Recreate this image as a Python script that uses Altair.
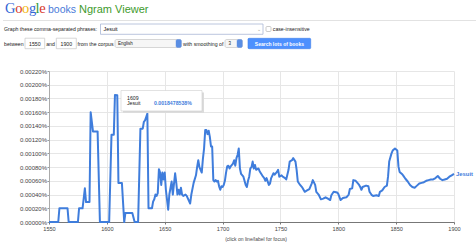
import altair as alt
import pandas as pd

# ---------------- data ----------------
YEARS = [1550, 1558, 1559, 1566, 1567, 1575, 1576, 1579, 1581, 1582, 1585, 1586, 1588, 1592, 1594,
         1602, 1604, 1606, 1607, 1609, 1610, 1613, 1615, 1616, 1622, 1624, 1627, 1629, 1631, 1632,
         1633, 1634, 1635, 1636, 1639, 1640, 1641, 1642, 1643, 1644, 1645, 1646, 1647, 1648, 1649,
         1650, 1651, 1653, 1654, 1656, 1657, 1659, 1660, 1661, 1662, 1663, 1664, 1665, 1666, 1668,
         1669, 1672, 1673, 1675, 1677, 1678, 1679, 1680, 1682, 1683, 1684, 1685, 1686, 1687, 1688,
         1689, 1690, 1691, 1692, 1693, 1694, 1695, 1696, 1697, 1698, 1699, 1700, 1701, 1702, 1703,
         1704, 1705, 1706, 1707, 1709, 1710, 1711, 1712, 1713, 1714, 1715, 1716, 1718, 1720, 1721,
         1722, 1723, 1724, 1725, 1726, 1727, 1728, 1729, 1731, 1732, 1735, 1736, 1737, 1738, 1740,
         1741, 1742, 1744, 1745, 1747, 1748, 1749, 1751, 1752, 1754, 1755, 1757, 1758, 1760, 1761,
         1763, 1764, 1765, 1767, 1769, 1771, 1773, 1775, 1777, 1778, 1780, 1781, 1783, 1785, 1787,
         1789, 1791, 1793, 1794, 1796, 1799, 1800, 1802, 1804, 1807, 1809, 1810, 1812, 1813, 1815,
         1816, 1818, 1819, 1820, 1821, 1824, 1826, 1827, 1829, 1830, 1833, 1835, 1836, 1838, 1840,
         1842, 1843, 1844, 1846, 1847, 1849, 1851, 1852, 1853, 1855, 1856, 1858, 1860, 1862, 1864,
         1866, 1868, 1870, 1872, 1874, 1876, 1878, 1880, 1882, 1884, 1886, 1888, 1890, 1892, 1894,
         1896, 1898, 1900]
# frequency in percent
JESUIT = [0, 0, 0.0002, 0.0002, 0, 0, 0.0002, 0.0002, 0.00049, 0.00029, 0.00029, 0.0016, 0.00132, 0.00132, 0,
          0, 0.00127, 0.00127, 0.00185, 0.0018478538, 0.00057, 0.00057, 0, 0.00013, 0.00013, 0, 0, 0.00136, 0.00136, 0.00146,
          0.00148, 0.00153, 0.00158, 0.0002, 0.0002, 0.0003, 0.00033, 0.0004, 0.00038, 0.00042, 0.00077, 0.00072, 0.00054, 0.00072, 0.00062,
          0.00072, 0.00047, 0.00018, 0.0004, 0.00059, 0.0004, 0.00071, 0.00057, 0.0004, 0.00047, 0.0004, 0.0005, 0.0004, 0.00038, 0.0004,
          0.00038, 0.00027, 0.0004, 0.00057, 0.00068, 0.0008, 0.0009, 0.0008, 0.00072, 0.00092, 0.00107, 0.00134, 0.00134, 0.00128, 0.00133,
          0.00124, 0.0011, 0.0011, 0.00061, 0.00059, 0.00061, 0.00059, 0.0006, 0.00052, 0.00047, 0.00052, 0.00051, 0.00054, 0.0006, 0.00072,
          0.00081, 0.00082, 0.00078, 0.00081, 0.00085, 0.0009, 0.00082, 0.00093, 0.00098, 0.00107, 0.00078, 0.0007, 0.00066, 0.00054, 0.00051,
          0.0006, 0.00066, 0.00078, 0.0008, 0.00088, 0.00078, 0.00083, 0.00076, 0.00078, 0.00074, 0.00066, 0.00064, 0.0006, 0.00064, 0.00054,
          0.00056, 0.00064, 0.00071, 0.00069, 0.00073, 0.00076, 0.00066, 0.00068, 0.00066, 0.00064, 0.00062, 0.00076, 0.00088, 0.0009, 0.00093,
          0.00088, 0.00076, 0.00059, 0.00054, 0.0005, 0.00044, 0.00046, 0.00048, 0.00056, 0.00061, 0.00054, 0.00044, 0.0004, 0.00033, 0.00034,
          0.00036, 0.00034, 0.00032, 0.00039, 0.00044, 0.00043, 0.00041, 0.00032, 0.00035, 0.00036, 0.0004, 0.00048, 0.00049, 0.00061, 0.0006,
          0.00058, 0.00054, 0.00051, 0.00047, 0.00051, 0.00053, 0.00052, 0.00044, 0.00039, 0.00038, 0.00039, 0.00038, 0.00044, 0.00046, 0.00051,
          0.00053, 0.00066, 0.00088, 0.001, 0.00104, 0.00107, 0.00104, 0.00081, 0.00073, 0.0007, 0.00068, 0.00063, 0.00059, 0.00054, 0.00051,
          0.0005, 0.00053, 0.00056, 0.00057, 0.00058, 0.0006, 0.00061, 0.00062, 0.00062, 0.00064, 0.00067, 0.00063, 0.00061, 0.00062, 0.00063,
          0.00066, 0.00068, 0.0007]
SERIES = "Jesuit"
X_TICKS = [1550, 1600, 1650, 1700, 1750, 1800, 1850, 1900]
Y_TICKS = [0, 0.0002, 0.0004, 0.0006, 0.0008, 0.001, 0.0012, 0.0014, 0.0016, 0.0018, 0.002, 0.0022]
TIP_YEAR = "1609"
TIP_VALUE = "0.0018478538%"

SANS = "Liberation Sans"
SERIF = "Liberation Serif"
LINE_BLUE = "#3f7ddc"
OX, OY = 49, 71          # plot origin inside the 476x246 page
W, H = 405, 151

df = pd.DataFrame({"year": YEARS, "value": JESUIT, "series": SERIES})
one = pd.DataFrame({"k": [0]})


def txt(x, y, s, size, color="#222", weight="normal", align="left", font=SANS, baseline="middle"):
    return alt.Chart(one).mark_text(
        fontSize=size, color=color, fontWeight=weight, align=align, font=font, baseline=baseline
    ).encode(x=alt.value(x - OX), y=alt.value(y - OY), text=alt.value(s))


def box(x1, y1, x2, y2, fill="white", stroke="#c8c8c8", sw=0.7, r=0):
    return alt.Chart(one).mark_rect(
        fill=fill, stroke=stroke, strokeWidth=sw, cornerRadius=r
    ).encode(x=alt.value(x1 - OX), x2=alt.value(x2 - OX), y=alt.value(y1 - OY), y2=alt.value(y2 - OY))


def hline(x1, x2, y, color="#d8d8d8", sw=1):
    return alt.Chart(one).mark_rule(color=color, strokeWidth=sw).encode(
        x=alt.value(x1 - OX), x2=alt.value(x2 - OX), y=alt.value(y - OY))


base = alt.Chart(df)
line = base.mark_line(color=LINE_BLUE, strokeWidth=2, strokeJoin="round").encode(
    x=alt.X("year:Q", scale=alt.Scale(domain=[1550, 1900], nice=False, zero=False),
            axis=alt.Axis(values=X_TICKS, tickCount=len(X_TICKS), format="d", title=None,
                          labelFontSize=5.6, labelFont=SANS,
                          labelColor="#444", tickSize=2, tickColor="#777", domainColor="#777",
                          gridColor="#e6e6e6", labelPadding=2, labelFlush=False, labelOverlap=False)),
    y=alt.Y("value:Q", scale=alt.Scale(domain=[0, 0.0022], nice=False),
            axis=alt.Axis(values=Y_TICKS, tickCount=len(Y_TICKS), title=None,
                          labelExpr="format(datum.value, '.5f') + '%'",
                          labelFontSize=6, labelFont=SANS, labelColor="#444", tickSize=2,
                          tickColor="#999", domainColor="#aaa", gridColor="#e6e6e6",
                          labelPadding=0.5, labelOverlap=False, labelFlush=False)),
)
end_label = base.transform_filter(alt.datum.year == 1900).mark_text(
    align="left", dx=2, fontSize=5.9, fontWeight="bold", color=LINE_BLUE, font=SANS
).encode(x="year:Q", y="value:Q", text="series:N")

layers = [line, end_label]

# tooltip
layers += [
    box(123, 92.5, 204, 113, fill="#dcdcdc", stroke="#dcdcdc", sw=0),
    box(121, 90.5, 202, 111, fill="white", stroke="#cfcfcf", sw=0.6),
    txt(127, 97.7, TIP_YEAR, 5.2, color="#222"),
    txt(127, 103.4, SERIES, 5.2, color="#222"),
    txt(154, 103.4, TIP_VALUE, 5.2, color=LINE_BLUE, weight="bold"),
]

# header: logo
logo = [("G", "#3366d6", 5), ("o", "#d8372b", 15.3), ("o", "#f2b50f", 22.1), ("g", "#3366d6", 28.9),
        ("l", "#2e9a3b", 35.6), ("e", "#d8372b", 39.2)]
for ch, col, x in logo:
    layers.append(txt(x, 13.3, ch, 14.5, color=col, font=SERIF, baseline="alphabetic"))
layers += [
    txt(48, 12.7, "books", 10.5, color="#4a7bd9", baseline="alphabetic"),
    txt(79, 12.7, "Ngram Viewer", 11, color="#3e9a2c", baseline="alphabetic"),
    hline(3, 476, 20.5, color="#dadada", sw=0.8),
]

# row: phrases
layers += [
    txt(4, 29, "Graph these comma-separated phrases:", 5.2),
    box(100.5, 24, 263, 34.3, stroke="#a9b8d6", sw=0.8),
    txt(103.5, 29.2, "Jesuit", 5.4, color="#111"),
    txt(258.5, 29, "⌄", 5, color="#999", align="center"),
    box(266, 26.5, 271, 31.5, stroke="#aaa", sw=0.6, r=1),
    txt(272.8, 29, "case-insensitive", 5.2),
]

# row: years / corpus / smoothing / button
layers += [
    txt(4, 43.5, "between", 5.2),
    box(25, 38.2, 44.7, 48.7, stroke="#c6c6c6", sw=0.7),
    txt(34.8, 43.6, "1550", 5.2, align="center"),
    txt(46.2, 43.5, "and", 5.2),
    box(56.3, 38.2, 76.3, 48.7, stroke="#c6c6c6", sw=0.7),
    txt(66.3, 43.6, "1900", 5.2, align="center"),
    txt(77.5, 43.5, "from the corpus", 5.2),
    box(115, 39.5, 181.3, 47.5, fill="#f6f6f6", stroke="#bdbdbd", sw=0.6, r=1.5),
    txt(118, 43.6, "English", 4.5),
    box(176, 39.5, 181.3, 47.5, fill="#5a8ee3", stroke="#5a8ee3", sw=0.4, r=1.5),
    txt(183, 43.5, "with smoothing of", 5.2),
    box(225, 39.5, 242.3, 47.5, fill="#f6f6f6", stroke="#bdbdbd", sw=0.6, r=1.5),
    txt(228.5, 43.6, "3", 4.5),
    box(237, 39.5, 242.3, 47.5, fill="#5a8ee3", stroke="#5a8ee3", sw=0.4, r=1.5),
    box(248, 38.3, 310.7, 48.7, fill="#4d90fe", stroke="#3f7fe8", sw=0.6, r=1),
    txt(279.4, 43.6, "Search lots of books", 5, color="white", weight="bold", align="center"),
]

# footer
layers.append(txt(256, 239.3, "(click on line/label for focus)", 5, color="#444", align="center"))

chart = alt.layer(*layers).properties(
    width=W, height=H,
    autosize=alt.AutoSizeParams(type="none"),
    padding={"left": OX, "top": OY, "right": 476 - OX - W, "bottom": 246 - OY - H},
    background="white",
).configure_view(stroke=None)

chart.save("out.html", embed_options={"renderer": "svg", "actions": False})
